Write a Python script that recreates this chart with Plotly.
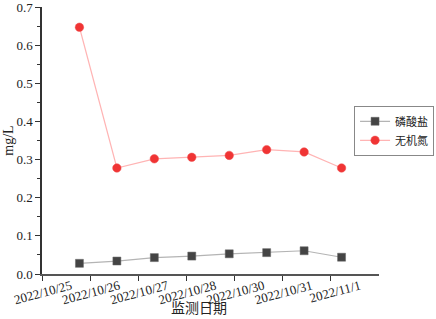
import plotly.graph_objects as go

dates = ["10/25", "10/26", "10/27", "10/28", "10/29", "10/30", "10/31", "11/1"]
phosphate = [0.028, 0.034, 0.043, 0.047, 0.053, 0.056, 0.061, 0.044]
inorganic_n = [0.647, 0.278, 0.302, 0.306, 0.311, 0.326, 0.320, 0.278]
tick_labels = ["2022/10/25", "2022/10/26", "2022/10/27", "2022/10/28",
               "2022/10/30", "2022/10/31", "2022/11/1"]

x = list(range(len(dates)))
step = 9 / 7
tickvals = [-1 + step * j for j in range(len(tick_labels))]

fig = go.Figure()
fig.add_trace(go.Scatter(
    x=x, y=phosphate, name="磷酸盐", mode="lines+markers",
    line=dict(color="#b4b4b4", width=1.2),
    marker=dict(symbol="square", size=8, color="#444444",
                line=dict(color="#666666", width=0.5)),
))
fig.add_trace(go.Scatter(
    x=x, y=inorganic_n, name="无机氮", mode="lines+markers",
    line=dict(color="#ffb4b4", width=1.2),
    marker=dict(symbol="circle", size=8.5, color="#f03434",
                line=dict(color="#f05050", width=0.5)),
))

axis_font = dict(family="Liberation Serif, Noto Sans CJK SC", size=13, color="#222222")
fig.update_layout(
    width=436, height=319,
    margin=dict(l=42, r=57, t=7, b=45, autoexpand=False),
    plot_bgcolor="white", paper_bgcolor="white",
    showlegend=True,
    legend=dict(x=0.926, y=0.63, xanchor="left", yanchor="top",
                bordercolor="#888888", borderwidth=1, bgcolor="white",
                font=dict(family="Noto Sans CJK SC", size=11, color="#222222"),
                tracegroupgap=0, itemwidth=30),
    xaxis=dict(range=[-1, 8], tickmode="array", tickvals=tickvals, ticktext=tick_labels,
               tickangle=-15, ticks="outside", ticklen=5, tickcolor="#333333",
               showline=True, linecolor="#555555", linewidth=1.5,
               showgrid=False, zeroline=False, tickfont=axis_font,
               ticklabelshift=29, ticklabelstandoff=-7, ticklabeloverflow="allow"),
    yaxis=dict(range=[0, 0.7001], dtick=0.1, tickformat=".1f",
               ticks="outside", ticklen=5, tickcolor="#333333",
               minor=dict(dtick=0.05, ticks="outside", ticklen=3, tickcolor="#333333"),
               showline=True, linecolor="#333333", linewidth=1.5,
               showgrid=False, zeroline=False, tickfont=axis_font,
               ticklabeloverflow="allow",
               title=dict(text="mg/L", font=dict(family="Liberation Serif", size=14, color="#222222"),
                          standoff=0)),
    annotations=[dict(text="监测日期", xref="paper", yref="paper", x=0.466, y=-0.122,
                      xanchor="center", yanchor="middle", showarrow=False,
                      font=dict(family="Noto Sans CJK SC", size=14, color="#222222"))],
)

fig.write_html("out.html", config={"displayModeBar": False},
               post_script="document.body.style.margin='0';")
